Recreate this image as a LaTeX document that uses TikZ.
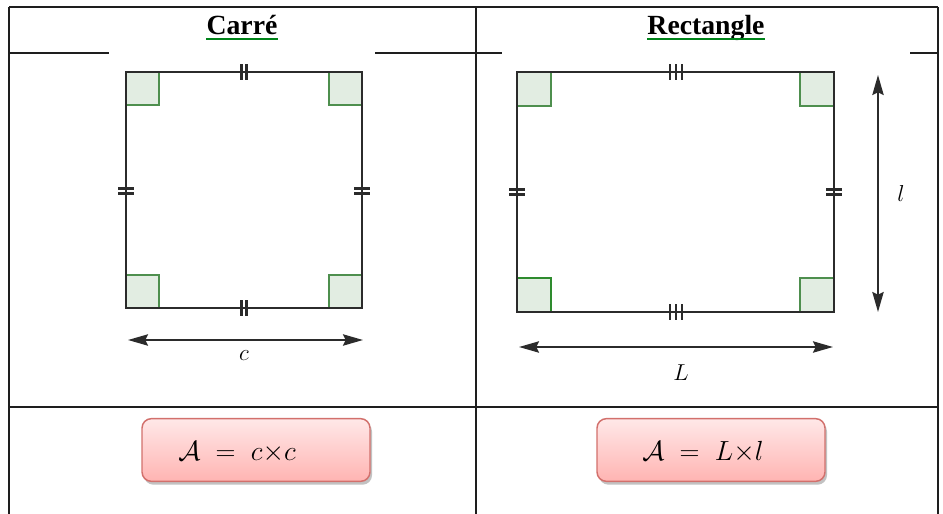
\documentclass[tikz,border=0pt]{standalone}
\usepackage{fontspec}
\setmainfont{Liberation Serif}
\usepackage{xcolor}
\definecolor{tabgray}{HTML}{1E1E1E}
\definecolor{edgegray}{HTML}{2B2B2B}
\definecolor{anglefill}{HTML}{E2EDE2}
\definecolor{angledraw}{HTML}{4E8F4E}
\definecolor{angledark}{HTML}{2E8B2E}
\definecolor{ulgreen}{HTML}{00841A}
\definecolor{pinktop}{HTML}{FFE8E8}
\definecolor{pinkbot}{HTML}{FFB4B2}
\definecolor{pinkedge}{HTML}{D2706C}
\usetikzlibrary{arrows.meta, shadows}

\begin{document}
\begin{tikzpicture}[x=0.75pt, y=-0.75pt,
  tabline/.style={draw=tabgray, line width=1pt},
  edgeline/.style={draw=edgegray, line width=1.9pt},
  rangle/.style={draw=angledraw, fill=anglefill, line width=0.8pt},
  hash/.style={draw=edgegray, line width=1.6pt},
  dimarr/.style={{Stealth[length=15pt,width=8.5pt,inset=2pt]}-{Stealth[length=15pt,width=8.5pt,inset=2pt]},
                 line width=1.4pt, draw=edgegray},
  head/.style={font=\fontsize{20.8}{24}\selectfont\bfseries, inner sep=0pt, anchor=base},
  ul/.style={draw=ulgreen, line width=1.5pt},
  lab/.style={font=\fontsize{17}{20}\selectfont, inner sep=1pt},
  formula/.style={draw=pinkedge, line width=1.1pt, rounded corners=7pt, top color=pinktop, bottom color=pinkbot,
                  minimum width=171pt, minimum height=47pt,
                  drop shadow={shadow xshift=1.5pt, shadow yshift=-2.5pt, opacity=0.4, fill=black!60}},
  ftext/.style={font=\fontsize{21}{24}\selectfont, inner sep=0pt, anchor=base west}]
  \useasboundingbox (0,0) rectangle (943,514);
  \draw[tabline] (9,7) -- (938,7);
  \draw[tabline] (9,407) -- (938,407);
  \foreach \x in {9,476,938} \draw[tabline] (\x,7) -- (\x,514);
  \draw[tabline] (9,53) -- (109,53) (375,53) -- (502,53) (910,53) -- (938,53);
  \node[head] (hsq) at (242,34) {Carré};
  \node[head] (hre) at (706,34) {Rectangle};
  \draw[ul] ([yshift=-3.5pt]hsq.base west) -- ([yshift=-3.5pt]hsq.base east);
  \draw[ul] ([yshift=-3.5pt]hre.base west) -- ([yshift=-3.5pt]hre.base east);
  \foreach \x/\y in {126/72, 329/72, 126/275, 329/275} \draw[rangle] (\x,\y) rectangle ++(33,33);
  \draw[edgeline] (126,72) rectangle (362,308);
  \foreach \x in {241.5,246.5} \draw[hash] (\x,64) -- (\x,80) (\x,300) -- (\x,316);
  \foreach \y in {188.5,193.5} \draw[hash] (118,\y) -- (134,\y) (354,\y) -- (370,\y);
  \coordinate (cl) at (128,340);
  \coordinate (cr) at (363,340);
  \draw[dimarr] (cl) -- (cr);
  \node[lab] (lc) at (244,356) {$c$};
  \foreach \x/\y in {517/72, 800/72, 800/278} \draw[rangle] (\x,\y) rectangle ++(34,34);
  \draw[rangle, draw=angledark, line width=1.5pt] (517,278) rectangle ++(34,34);
  \draw[edgeline] (517,72) rectangle (834,312);
  \foreach \x in {670,676,682} \draw[hash] (\x,64) -- (\x,80) (\x,304) -- (\x,320);
  \foreach \y in {189.5,194.5} \draw[hash] (509,\y) -- (525,\y) (826,\y) -- (842,\y);
  \coordinate (ll) at (519,347);
  \coordinate (lr) at (833,347);
  \draw[dimarr] (ll) -- (lr);
  \node[lab] (lL) at (681,373) {$L$};
  \coordinate (wt) at (878,75);
  \coordinate (wb) at (878,312);
  \draw[dimarr] (wt) -- (wb);
  \node[lab] (lw) at (901,193) {$l$};
  \node[formula] (fsq) at (256,450) {};
  \node[ftext] (asq) at (178,460) {$\mathcal{A}\;=\;c{\times}c$};
  \node[formula] (fre) at (711,450) {};
  \node[ftext] (are) at (642,460) {$\mathcal{A}\;=\;L{\times}l$};
\end{tikzpicture}
\end{document}
